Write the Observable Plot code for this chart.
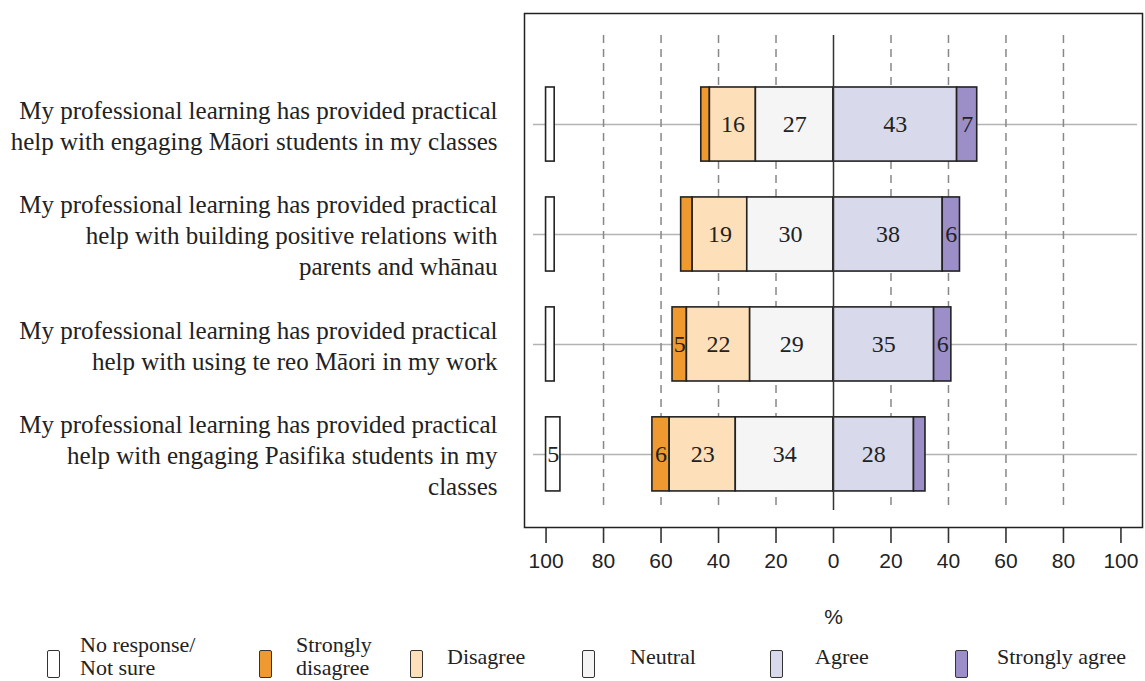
<!DOCTYPE html>
<html>
<head>
<meta charset="utf-8">
<script src="https://cdn.jsdelivr.net/npm/d3@7"></script>
<script src="https://cdn.jsdelivr.net/npm/@observablehq/plot@0.6"></script>
<style>
  html, body { margin: 0; padding: 0; background: #fff; }
  #wrap { width: 1145px; }
  #legend { position: relative; width: 1145px; height: 49px; font-family: "Liberation Serif", "Times New Roman", serif; font-size: 22px; color: #222; }
  .lg-box { position: absolute; width: 11px; height: 26px; border: 1.6px solid #333; border-radius: 2px; }
  .lg-text { position: absolute; line-height: 23px; transform: translateY(-50%); white-space: pre; }
</style>
</head>
<body>
<div id="wrap"></div>
<script>
// ---- data ----
const statements = [
  "My professional learning has provided practical\nhelp with engaging Māori students in my classes",
  "My professional learning has provided practical\nhelp with building positive relations with\nparents and whānau",
  "My professional learning has provided practical\nhelp with using te reo Māori in my work",
  "My professional learning has provided practical\nhelp with engaging Pasifika students in my\nclasses"
];
const noResponse       = [3, 3, 3, 5];
const stronglyDisagree = [3, 4, 5, 6];
const disagree         = [16, 19, 22, 23];
const neutral          = [27, 30, 29, 34];
const agree            = [43, 38, 35, 28];
const stronglyAgree    = [7, 6, 6, 4];
const categories = ["No response/\nNot sure", "Strongly\ndisagree", "Disagree", "Neutral", "Agree", "Strongly agree"];
const colors = ["#ffffff", "#ee9a30", "#fde0b9", "#f5f5f5", "#d8d9ea", "#9c8fc7"];
const xTicks = [-100, -80, -60, -40, -20, 0, 20, 40, 60, 80, 100];
const gridTicks = [-80, -60, -40, -20, 20, 40, 60, 80];

// ---- build segments ----
const segs = [];
statements.forEach((s, i) => {
  const row = i + 1;
  const N = neutral[i], D = disagree[i], SD = stronglyDisagree[i];
  const A = agree[i], SA = stronglyAgree[i], NR = noResponse[i];
  segs.push({row, cat: categories[0], value: NR, x1: -100, x2: -100 + NR});
  segs.push({row, cat: categories[1], value: SD, x1: -(N + D + SD), x2: -(N + D)});
  segs.push({row, cat: categories[2], value: D, x1: -(N + D), x2: -N});
  segs.push({row, cat: categories[3], value: N, x1: -N, x2: 0});
  segs.push({row, cat: categories[4], value: A, x1: 0, x2: A});
  segs.push({row, cat: categories[5], value: SA, x1: A, x2: A + SA});
});
const rowsData = statements.map((s, i) => ({row: i + 1, label: s}));

const serif = "'Liberation Serif', 'Times New Roman', serif";
const sans = "'Liberation Sans', Arial, sans-serif";
const H = 632;
const half = 0.337;

const chart = Plot.plot({
  width: 1145,
  height: H,
  marginLeft: 524,
  marginRight: 3,
  marginTop: 13,
  marginBottom: H - 527,
  style: {fontFamily: sans, fontSize: "21px", color: "#222", background: "#fff"},
  x: {domain: [-107.5, 107.5], axis: null},
  y: {domain: [-0.01, 4.665], range: [13, 527], axis: null},
  color: {domain: categories, range: colors},
  marks: [
    Plot.ruleY(rowsData, {y: "row", stroke: "#b3b3b3", strokeWidth: 1.5, insetLeft: 9, insetRight: 5}),
    Plot.ruleX(gridTicks, {stroke: "#888", strokeWidth: 1.5, strokeDasharray: "8,6", insetTop: 22, insetBottom: 17}),
    Plot.rect(segs, {
      x1: "x1", x2: "x2",
      y1: d => d.row - half, y2: d => d.row + half,
      fill: "cat", stroke: "#222", strokeWidth: 1.6
    }),
    Plot.ruleX([0], {stroke: "#333", strokeWidth: 1.5, insetTop: 22, insetBottom: 17}),
    Plot.text(segs.filter(d => d.value >= 5), {
      x: d => (d.x1 + d.x2) / 2, y: "row", text: d => String(d.value),
      fontSize: 24, fontFamily: serif, fill: "#222"
    }),
    Plot.text(rowsData, {
      y: "row", text: "label", frameAnchor: "left", dx: -27, textAnchor: "end",
      fontSize: 25, fontFamily: serif, lineHeight: 1.24, fill: "#222"
    }),
    Plot.axisX(xTicks, {
      tickFormat: d => String(Math.abs(d)), tickSize: 16, tickPadding: 10,
      fontSize: 21, fontFamily: sans, stroke: "#333", strokeWidth: 1.6, label: null
    }),
    Plot.text(["%"], {frameAnchor: "bottom", dy: 96, fontSize: 21, fontFamily: sans, fill: "#222"}),
    Plot.frame({stroke: "#222", strokeWidth: 1.5})
  ]
});
document.getElementById("wrap").appendChild(chart);

// ---- legend ----
const legend = document.createElement("div");
legend.id = "legend";
const boxX = [47, 259, 410, 582, 770, 955];
const textX = [80, 296, 447, 630, 815, 997];
categories.forEach((c, i) => {
  const b = document.createElement("div");
  b.className = "lg-box";
  b.style.left = boxX[i] + "px";
  b.style.top = "18px";
  b.style.background = colors[i];
  legend.appendChild(b);
  const t = document.createElement("div");
  t.className = "lg-text";
  t.style.left = textX[i] + "px";
  t.style.top = "24px";
  t.textContent = c;
  legend.appendChild(t);
});
document.getElementById("wrap").appendChild(legend);
</script>
</body>
</html>
